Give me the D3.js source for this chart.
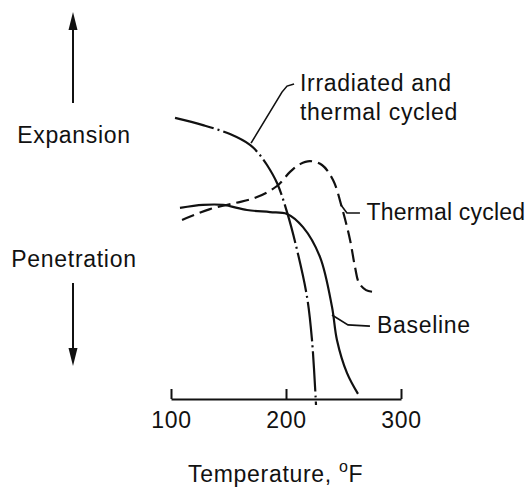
<!DOCTYPE html>
<html>
<head>
<meta charset="utf-8">
<script src="https://d3js.org/d3.v7.min.js"></script>
<style>
  body { margin: 0; background: #fff; }
  svg { display: block; }
  text { font-family: "Liberation Sans", Arial, Helvetica, sans-serif; font-size: 23px; fill: #111; letter-spacing: 0.7px; }
</style>
</head>
<body>
<script>
// temperature (F) vs relative expansion (arbitrary units, 0 = axis line)
const baseline = [
  [107.8, 63.7], [127.8, 64.7], [145.2, 64.7], [166.1, 63.0], [186.1, 62.3],
  [200.9, 61.7], [214.8, 57.3], [229.6, 47.3], [240.0, 30.7], [244.3, 19.7],
  [253.0, 8.7], [262.6, 1.7]
];
const thermalCycled = [
  [109.6, 59.7], [133.9, 63.3], [155.7, 65.3], [174.8, 67.3], [192.2, 71.0],
  [203.5, 75.7], [212.2, 78.3], [220.9, 79.3], [231.3, 78.0], [240.9, 73.0],
  [248.7, 63.7], [255.7, 53.0], [260.0, 44.0], [263.5, 38.7], [269.6, 36.3],
  [275.7, 35.7]
];
const irradiated = [
  [103.5, 93.7], [127.8, 91.3], [151.3, 88.3], [168.7, 84.7], [176.5, 81.7],
  [183.5, 78.0], [192.2, 72.0], [200.9, 62.3], [209.6, 49.7], [218.3, 34.0],
  [222.6, 19.7], [226.1, -2.0]
];
const xTicks = [100, 200, 300];

// leader lines and labels, also in data units
const leaders = [
  [[169.6, 85.3], [196.5, 102.3], [200.9, 104.3], [207.0, 105.0]],
  [[247.8, 64.7], [253.0, 62.0], [264.3, 62.0]],
  [[240.0, 28.0], [253.9, 24.7], [273.0, 24.3]]
];
const labels = [
  { text: "Irradiated and", t: 212.2, v: 102.7, ls: 0.7 },
  { text: "thermal cycled", t: 212.2, v: 93.0, ls: 0.7 },
  { text: "Thermal cycled", t: 270.0, v: 59.7, ls: 0.2 },
  { text: "Baseline", t: 279.1, v: 22.0, ls: 0.7 }
];

const W = 531, H = 490;
const svg = d3.select("body").append("svg").attr("width", W).attr("height", H);

const x = d3.scaleLinear().domain([100, 300]).range([171, 401]);
const y = d3.scaleLinear().domain([0, 100]).range([399, 99]);

const line = d3.line()
  .x(d => x(d[0])).y(d => y(d[1]))
  .curve(d3.curveCatmullRom.alpha(0.5));

// axis
const axis = svg.append("g")
  .attr("transform", `translate(0,${y(0)})`)
  .call(d3.axisBottom(x).tickValues(xTicks).tickSize(-10).tickSizeOuter(0).tickPadding(13));
axis.select(".domain").attr("stroke", "#111").attr("stroke-width", 2);
axis.selectAll(".tick line").attr("stroke", "#111").attr("stroke-width", 2);
axis.selectAll(".tick text").attr("font-size", null).attr("font-family", null).attr("fill", "#111");

// curves
svg.append("path").datum(baseline)
  .attr("d", line).attr("fill", "none").attr("stroke", "#111").attr("stroke-width", 2.2);
svg.append("path").datum(thermalCycled)
  .attr("d", line).attr("fill", "none").attr("stroke", "#111").attr("stroke-width", 2.2)
  .attr("stroke-dasharray", "13,6");
svg.append("path").datum(irradiated)
  .attr("d", line).attr("fill", "none").attr("stroke", "#111").attr("stroke-width", 2.2)
  .attr("stroke-dasharray", "40,4,2,4");

// leaders + labels
const leaderLine = d3.line().x(d => x(d[0])).y(d => y(d[1]));
svg.selectAll(".leader").data(leaders).join("path")
  .attr("class", "leader")
  .attr("d", leaderLine).attr("fill", "none").attr("stroke", "#111").attr("stroke-width", 1.6);
svg.selectAll(".lbl").data(labels).join("text")
  .attr("class", "lbl")
  .attr("x", d => x(d.t)).attr("y", d => y(d.v))
  .style("letter-spacing", d => d.ls + "px")
  .text(d => d.text);

// direction arrows on the left
svg.append("defs").append("marker").attr("id", "head")
  .attr("viewBox", "0 0 18 10").attr("refX", 2).attr("refY", 5)
  .attr("markerWidth", 18).attr("markerHeight", 10).attr("markerUnits", "userSpaceOnUse")
  .attr("orient", "auto")
  .append("path").attr("d", "M0,0.5 L18,5 L0,9.5 Z").attr("fill", "#111");

svg.append("line").attr("x1", 73).attr("y1", 103).attr("x2", 73).attr("y2", 28)
  .attr("stroke", "#111").attr("stroke-width", 2).attr("marker-end", "url(#head)");
svg.append("line").attr("x1", 73).attr("y1", 283).attr("x2", 73).attr("y2", 350)
  .attr("stroke", "#111").attr("stroke-width", 2).attr("marker-end", "url(#head)");

svg.append("text").attr("x", 74).attr("y", 143).attr("text-anchor", "middle").text("Expansion");
svg.append("text").attr("x", 74).attr("y", 267).attr("text-anchor", "middle").text("Penetration");

// axis title
const title = svg.append("text").attr("x", 188).attr("y", 482);
title.append("tspan").text("Temperature, ");
title.append("tspan").attr("font-size", 16).attr("dy", -10).text("o");
title.append("tspan").attr("dy", 10).text("F");
</script>
</body>
</html>
